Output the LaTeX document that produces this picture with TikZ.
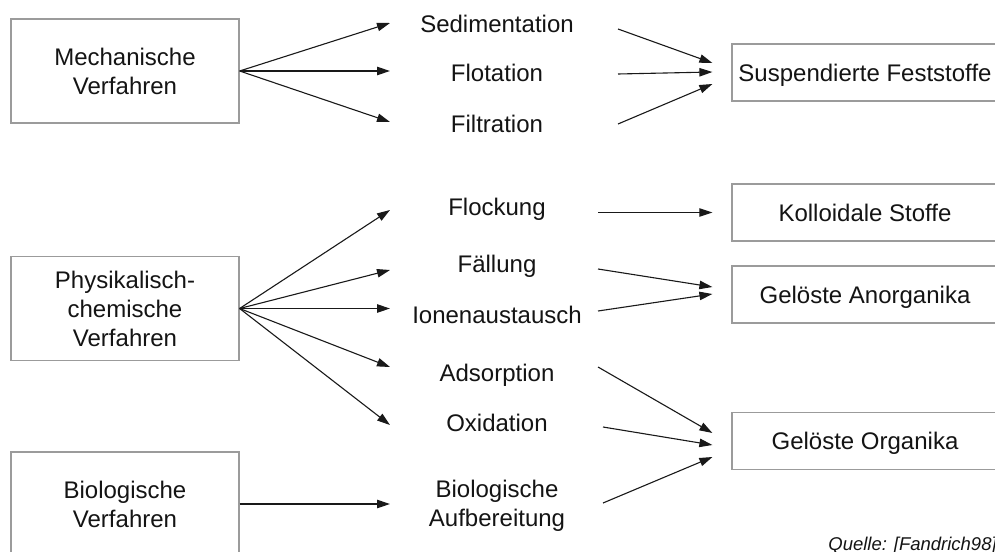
\documentclass[tikz,border=0pt]{standalone}
\usepackage{fontspec}
\setmainfont{Liberation Sans}
\usetikzlibrary{arrows.meta}
\definecolor{boxgray}{RGB}{155,155,155}
\definecolor{linecol}{RGB}{25,25,25}
\definecolor{textcol}{RGB}{20,20,20}
\begin{document}
\begin{tikzpicture}[x=0.5pt,y=-0.5pt,
  every node/.style={font=\fontsize{12}{14.5}\selectfont, text=textcol},
  box/.style={draw=boxgray, line width=0.6pt, rectangle, inner sep=0pt, align=center},
  lbox/.style={box, minimum width=114pt, minimum height=52pt},
  rbox/.style={box, minimum width=133pt, minimum height=28.5pt, text height=8.6pt, text depth=0pt},
  lbl/.style={inner sep=0pt, anchor=base},
  arr/.style={draw=linecol, line width=0.55pt, -{Triangle[length=6.5pt,width=4.2pt]}}]
\useasboundingbox (0,0) rectangle (995,551);
\clip (0,0) rectangle (995,551);
\fill[white] (0,0) rectangle (995,551);

% left boxes
\node[lbox] (mech) at (125,71) {Mechanische\\Verfahren};
\node[lbox] (phys) at (125,308.5) {Physikalisch-\\chemische\\Verfahren};
\node[lbox] (bio) at (125,504) {Biologische\\Verfahren};

% right boxes
\node[rbox] (susp) at (865,72.5) {Suspendierte Feststoffe};
\node[rbox] (koll) at (865,212.5) {Kolloidale Stoffe};
\node[rbox] (anorg) at (865,294.5) {Gelöste Anorganika};
\node[rbox] (org) at (865,441) {Gelöste Organika};

% middle labels
\node[lbl] (sed) at (497,33) {Sedimentation};
\node[lbl] (flot) at (497,82) {Flotation};
\node[lbl] (filt) at (497,133) {Filtration};
\node[lbl] (flock) at (497,215) {Flockung};
\node[lbl] (faell) at (497,272) {Fällung};
\node[lbl] (ion) at (497,323) {Ionenaustausch};
\node[lbl] (ads) at (497,381) {Adsorption};
\node[lbl] (oxi) at (497,431) {Oxidation};
\node[inner sep=0pt, align=center] (bioauf) at (497,506) {Biologische\\Aufbereitung};

\node[lbl, anchor=base west, font=\fontsize{9.25}{11}\selectfont\itshape, text=textcol] (quelle) at (828,550) {Quelle: [Fandrich98]};

% connector ends near the middle labels
\coordinate (sedIn) at (390,23);
\coordinate (flotIn) at (390,71);
\coordinate (filtIn) at (390,122);
\coordinate (flockIn) at (390,210);
\coordinate (faellIn) at (390,270);
\coordinate (ionIn) at (390,308.5);
\coordinate (adsIn) at (390,367);
\coordinate (oxiIn) at (390,425);
\coordinate (bioIn) at (390,504);

\coordinate (sedOut) at (618,29);
\coordinate (flotOut) at (618,74);
\coordinate (filtOut) at (618,124);
\coordinate (flockOut) at (598,212.5);
\coordinate (faellOut) at (598,269);
\coordinate (ionOut) at (598,311);
\coordinate (adsOut) at (598,367);
\coordinate (oxiOut) at (603,427);
\coordinate (bioOut) at (603,503);

% arrows from methods
\draw[arr] (mech.east) -- (sedIn);
\draw[arr] (mech.east) -- (flotIn);
\draw[arr] (mech.east) -- (filtIn);
\draw[arr] (phys.east) -- (flockIn);
\draw[arr] (phys.east) -- (faellIn);
\draw[arr] (phys.east) -- (ionIn);
\draw[arr] (phys.east) -- (adsIn);
\draw[arr] (phys.east) -- (oxiIn);
\draw[arr] (bio.east) -- (bioIn);

% arrows to targets
\draw[arr] (sedOut) -- ([shift={(-19,-9.5)}]susp.west);
\draw[arr] (flotOut) -- ([shift={(-19,-0.5)}]susp.west);
\draw[arr] (filtOut) -- ([shift={(-19,11.5)}]susp.west);
\draw[arr] (flockOut) -- ([shift={(-19,0)}]koll.west);
\draw[arr] (faellOut) -- ([shift={(-19,-7.5)}]anorg.west);
\draw[arr] (ionOut) -- ([shift={(-19,-0.5)}]anorg.west);
\draw[arr] (adsOut) -- ([shift={(-19,-8)}]org.west);
\draw[arr] (oxiOut) -- ([shift={(-19,4)}]org.west);
\draw[arr] (bioOut) -- ([shift={(-19,16)}]org.west);
\end{tikzpicture}
\end{document}
